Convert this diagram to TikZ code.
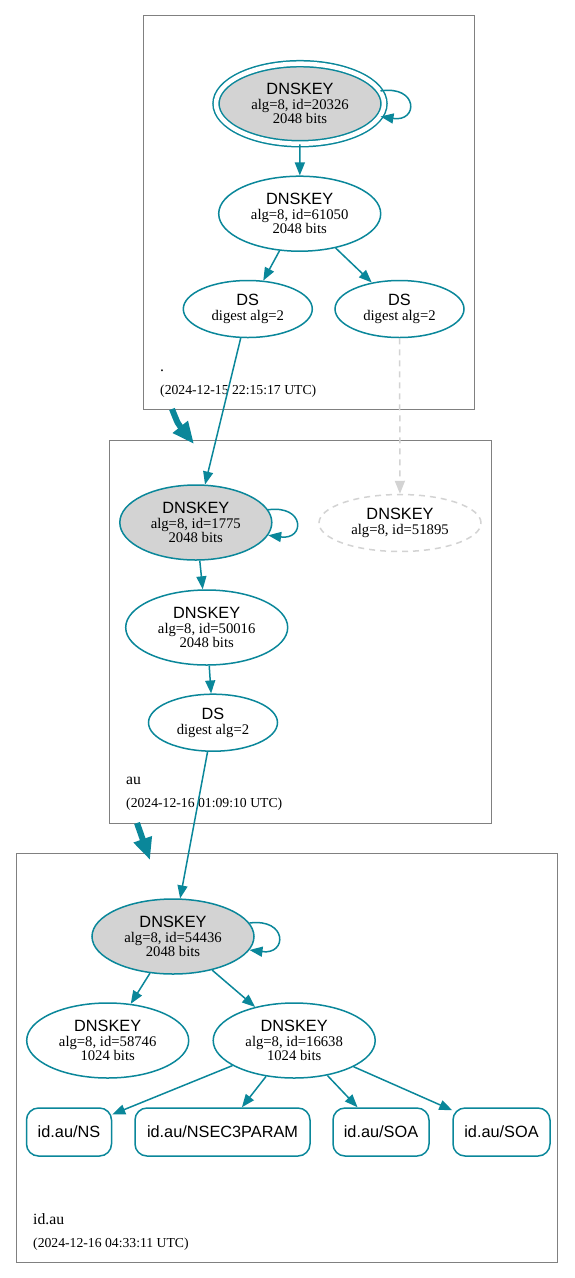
\documentclass[tikz,border=0pt]{standalone}
\usepackage{fontspec}
\setmainfont{Liberation Serif}
\setsansfont{Liberation Sans}
\usetikzlibrary{shapes.geometric,arrows.meta}
\definecolor{dteal}{HTML}{0A879A}
\definecolor{boxgray}{HTML}{808080}
\definecolor{lgray}{HTML}{D3D3D3}
\newcommand{\dntitle}{\fontsize{16.3}{14.5}\sffamily}
\newcommand{\dndet}{\fontsize{14.7}{14.5}\selectfont}
\newcommand{\dndate}{\fontsize{13.7}{14}\selectfont}
\newcommand{\dnzone}{\fontsize{15.7}{16}\selectfont}
\begin{document}
\begin{tikzpicture}[x=1pt,y=-1pt,
  zone/.style={draw=boxgray, line width=1pt, rectangle, inner sep=0pt},
  key/.style={ellipse, draw=dteal, line width=1.5pt, inner sep=0pt, minimum width=162pt, minimum height=75pt, align=center, font=\dndet},
  ksk/.style={key, fill=lgray},
  dsnode/.style={key, minimum width=129pt, minimum height=57pt},
  rrset/.style={rectangle, rounded corners=12pt, draw=dteal, line width=1.5pt, minimum height=48pt, inner sep=0pt, font=\dntitle},
  edge/.style={draw=dteal, line width=1.5pt, -{Triangle[length=13pt,width=10pt]}},
  ghostedge/.style={draw=lgray, line width=1.5pt, dash pattern=on 6pt off 5pt, -{Triangle[length=13pt,width=10pt]}},
  deleg/.style={draw=dteal, line width=6pt, -{Triangle[length=22pt,width=18pt]}},
  zlabel/.style={anchor=base west, inner sep=0pt}
]
\useasboundingbox[fill=white] (0,0) rectangle (575,1278);

% zone boxes
\node[zone, minimum width=330.5pt, minimum height=393.5pt] (z1) at (308.75,212.25) {};
\node[zone, minimum width=382pt, minimum height=382.5pt] (z2) at (300.5,631.75) {};
\node[zone, minimum width=541.5pt, minimum height=409.5pt] (z3) at (286.75,1057.75) {};

% zone labels
\node[zlabel, font=\dnzone] (z1n) at (160,371.5) {.};
\node[zlabel, font=\dndate] (z1d) at (160,394) {(2024-12-15 22:15:17 UTC)};
\node[zlabel, font=\dnzone] (z2n) at (126,784) {au};
\node[zlabel, font=\dndate] (z2d) at (126,807) {(2024-12-16 01:09:10 UTC)};
\node[zlabel, font=\dnzone] (z3n) at (33,1224) {id.au};
\node[zlabel, font=\dndate] (z3d) at (33,1247) {(2024-12-16 04:33:11 UTC)};

% root zone
\node[ksk, double=white, double distance=4.5pt, minimum width=168pt, minimum height=80pt] (r1) at (300,103.7) {{\dntitle DNSKEY}\\alg=8, id=20326\\2048 bits};
\node[key] (r2) at (299.7,213.7) {{\dntitle DNSKEY}\\alg=8, id=61050\\2048 bits};
\node[dsnode] (r3) at (247.8,309) {{\dntitle DS}\\digest alg=2};
\node[dsnode] (r4) at (399.5,309) {{\dntitle DS}\\digest alg=2};

% au zone
\node[ksk, minimum width=152pt] (a1) at (195.8,522.5) {{\dntitle DNSKEY}\\alg=8, id=1775\\2048 bits};
\node[key, draw=lgray, dash pattern=on 6pt off 5pt, minimum height=57pt] (a2) at (400,523) {{\dntitle DNSKEY}\\alg=8, id=51895};
\node[key] (a3) at (206.7,627.5) {{\dntitle DNSKEY}\\alg=8, id=50016\\2048 bits};
\node[dsnode] (a4) at (213,722.7) {{\dntitle DS}\\digest alg=2};

% id.au zone
\node[ksk] (i1) at (173,936.5) {{\dntitle DNSKEY}\\alg=8, id=54436\\2048 bits};
\node[key] (i2) at (107.7,1040.5) {{\dntitle DNSKEY}\\alg=8, id=58746\\1024 bits};
\node[key] (i3) at (294.2,1040.5) {{\dntitle DNSKEY}\\alg=8, id=16638\\1024 bits};
\node[rrset, minimum width=85pt] (i4) at (69,1132) {id.au/NS};
\node[rrset, minimum width=175pt] (i5) at (222.5,1132) {id.au/NSEC3PARAM};
\node[rrset, minimum width=96pt] (i6) at (381,1132) {id.au/SOA};
\node[rrset, minimum width=97pt] (i7) at (501.5,1132) {id.au/SOA};

% self loops
\draw[edge] (r1.9) .. controls +(38,-6) and +(38,6) .. (r1.-9);
\draw[edge] (a1.10) .. controls +(37,-5) and +(37,5) .. (a1.-10);
\draw[edge] (i1.10) .. controls +(38,-5) and +(38,5) .. (i1.-10);

% edges
\draw[edge] (r1) -- (r2);
\draw[edge] (r2) -- (r3);
\draw[edge] (r2) -- (r4);
\draw[edge] (r3) -- (a1);
\draw[ghostedge] (r4) -- (a2);
\draw[edge] (a1) -- (a3);
\draw[edge] (a3) -- (a4);
\draw[edge] (a4) -- (i1);
\draw[edge] (i1) -- (i2);
\draw[edge] (i1) -- (i3);
\draw[edge] (i3) -- (i4);
\draw[edge] (i3) -- (i5);
\draw[edge] (i3) -- (i6);
\draw[edge] (i3) -- (i7);

% delegation arrows
\coordinate (d1a) at (172,409);
\coordinate (d1b) at (194,444);
\coordinate (d2a) at (137,823);
\coordinate (d2b) at (150,860);
\draw[deleg] (d1a) .. controls (178,424) .. (d1b);
\draw[deleg] (d2a) -- (d2b);
\end{tikzpicture}
\end{document}
